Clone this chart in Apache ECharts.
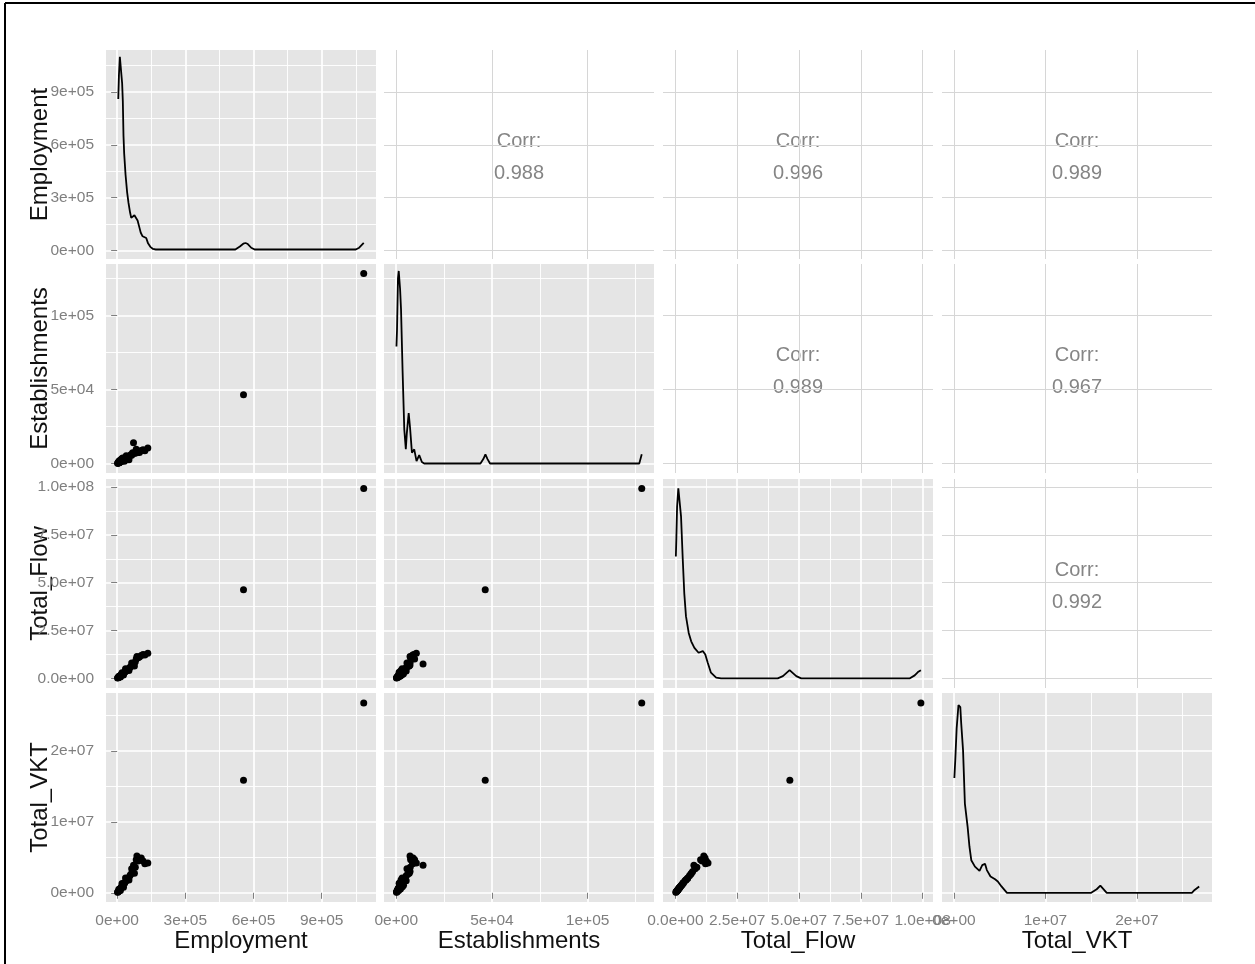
<!DOCTYPE html>
<html><head><meta charset="utf-8">
<script src="https://cdn.jsdelivr.net/npm/echarts@6/dist/echarts.min.js"></script>
<style>html,body{margin:0;padding:0;background:#fff;}#main{width:1255px;height:964px;}</style>
</head><body><div id="main"></div>
<script>
// ---------------- data ----------------
const varNames = ['Employment', 'Establishments', 'Total_Flow', 'Total_VKT'];

const employment = [2000,3500,4500,5500,6500,7500,8500,9500,10500,11500,12500,13500,14500,15500,16500,17500,18500,20000,21500,23000,24500,26000,28000,30000,32000,34000,37000,40000,44000,48000,52000,56000,60000,64000,68000,72000,76000,80000,84000,87000,92000,98000,106000,114000,122000,135000,556000,1085000];
const establishments = [150,300,250,450,600,1500,750,650,900,850,2200,1000,1250,1400,1200,1550,1700,3200,1900,2100,3800,2400,2600,2300,1500,3300,3100,5200,4000,4500,2500,5200,6000,5600,7200,14000,6800,7300,9600,7200,8200,7500,8800,9300,8600,10500,46500,128300];
const totalFlow = [200000,300000,450000,500000,650000,1200000,850000,900000,1050000,1100000,1250000,1300000,800000,1500000,1650000,1700000,1850000,2000000,3000000,2300000,2450000,2600000,1800000,3000000,3200000,3300000,5000000,3900000,4400000,4900000,4200000,5700000,6200000,8000000,7000000,7500000,6500000,8700000,10200000,11500000,10800000,11200000,12000000,12500000,12200000,13200000,46300000,99300000];
const totalVkt = [80000,120000,180000,220000,260000,500000,340000,380000,430000,470000,520000,560000,340000,640000,700000,730000,780000,850000,1300000,980000,1050000,1100000,780000,1300000,1350000,1450000,2100000,1700000,1850000,2000000,1800000,2400000,2600000,3400000,3000000,3900000,2750000,3600000,4650000,5200000,4500000,4700000,4900000,4500000,4100000,4200000,15900000,26800000];

// density curves on the diagonal (x in variable units, y scaled to the row's variable)
const empDensX = [5000,8000,12000,17000,22000,25000,28000,31000,37000,44000,50000,57000,62000,68000,76000,82000,90000,97000,104000,112000,120000,128000,136000,146000,158000,170000,520000,540000,555000,565000,575000,590000,605000,1050000,1065000,1085000];
const empDensY = [860000,1000000,1100000,1090000,950000,850000,650000,550000,430000,330000,270000,215000,185000,180000,200000,190000,170000,135000,100000,80000,82000,70000,40000,20000,8000,5000,5000,22000,38000,42000,36000,15000,5000,5000,15000,42000];
const estDensX = [100,400,900,1300,2000,2500,3300,4200,5000,5500,6500,7200,8200,9400,10600,12000,13400,14600,15900,44000,45500,46600,47700,49000,127000,128300];
const estDensY = [79000,90000,125000,130000,118000,104000,63000,23000,9600,20000,34000,24500,7300,9600,1600,5700,1000,0,0,0,3000,6200,3000,0,0,6200];
const flowDensX = [200000,400000,700000,1200000,1900000,2300000,3000000,3600000,4300000,5400000,6400000,7700000,9400000,11100000,12100000,13100000,14400000,16500000,18500000,41400000,43500000,46200000,48900000,50900000,94700000,96800000,98100000,99300000];
const flowDensY = [63700000,73300000,89800000,99300000,98400000,84500000,62000000,44600000,32400000,23800000,19400000,16000000,13400000,14300000,12500000,8200000,3000000,400000,0,0,1200000,4300000,1200000,0,0,1600000,3300000,4300000];
const vktDensX = [50000,150000,300000,500000,700000,800000,1000000,1200000,1500000,1700000,1900000,2300000,2800000,3100000,3400000,3600000,4000000,4500000,4800000,5200000,5800000,15000000,15600000,16000000,16700000,26000000,26300000,26800000];
const vktDensY = [16200000,18700000,23200000,26500000,26200000,23900000,20100000,12600000,9300000,6500000,4600000,3700000,3100000,3900000,4100000,3200000,2300000,1900000,1600000,900000,0,0,500000,1000000,0,0,400000,900000];

// correlations shown in the upper panels: [row, col, value]
const corrCells = [[0,1,'0.988'],[0,2,'0.996'],[0,3,'0.989'],[1,2,'0.989'],[1,3,'0.967'],[2,3,'0.992']];

// axis ranges and ticks
const empRange = [-49000, 1139000];
const estRange = [-6400, 134700];
const flowRange = [-5000000, 104200000];
const vktRange = [-1300000, 28200000];
const empTicks = [0, 300000, 600000, 900000];
const empTickLabels = ['0e+00', '3e+05', '6e+05', '9e+05'];
const empMinor = [150000, 450000, 750000, 1050000];
const estTicks = [0, 50000, 100000];
const estTickLabels = ['0e+00', '5e+04', '1e+05'];
const estMinor = [25000, 75000, 125000];
const flowTicks = [0, 25000000, 50000000, 75000000, 100000000];
const flowTickLabels = ['0.0e+00', '2.5e+07', '5.0e+07', '7.5e+07', '1.0e+08'];
const flowMinor = [12500000, 37500000, 62500000, 87500000];
const vktTicks = [0, 10000000, 20000000];
const vktTickLabels = ['0e+00', '1e+07', '2e+07'];
const vktMinor = [5000000, 15000000, 25000000];

// ---------------- chart ----------------
const vars = [
  {data: employment, range: empRange, ticks: empTicks, labels: empTickLabels, minor: empMinor, dx: empDensX, dy: empDensY},
  {data: establishments, range: estRange, ticks: estTicks, labels: estTickLabels, minor: estMinor, dx: estDensX, dy: estDensY},
  {data: totalFlow, range: flowRange, ticks: flowTicks, labels: flowTickLabels, minor: flowMinor, dx: flowDensX, dy: flowDensY},
  {data: totalVkt, range: vktRange, ticks: vktTicks, labels: vktTickLabels, minor: vktMinor, dx: vktDensX, dy: vktDensY}
];

const colLeft = [106, 384, 663, 942];
const rowTop = [50, 264, 479, 693];
const panelW = 270, panelH = 209;
const FONT = '"Liberation Sans", Arial, sans-serif';
const tickGrey = '#7f7f7f';

const grids = [], xAxes = [], yAxes = [], series = [], graphics = [];

for (let i = 0; i < 4; i++) {
  for (let j = 0; j < 4; j++) {
    const g = i * 4 + j;
    const lower = i >= j;
    grids.push({
      left: colLeft[j], top: rowTop[i], width: panelW, height: panelH,
      show: true, backgroundColor: lower ? '#E5E5E5' : '#FFFFFF', borderWidth: 0,
      containLabel: false, outerBoundsMode: 'none'
    });
    const vx = vars[j], vy = vars[i];
    const majorColor = lower ? '#FFFFFF' : '#D6D6D6';
    const majorWidth = lower ? 1.7 : 1;
    xAxes.push({
      type: 'value', gridIndex: g, min: vx.range[0], max: vx.range[1], position: 'bottom',
      axisLine: {show: false},
      axisTick: {show: i === 3, customValues: vx.ticks, length: 6, lineStyle: {color: tickGrey, width: 1}},
      axisLabel: {show: i === 3, customValues: vx.ticks, margin: 11, color: tickGrey, fontSize: 15.5, fontFamily: FONT,
        formatter: (v) => vx.labels[vx.ticks.indexOf(v)]},
      splitLine: {show: true, lineStyle: {color: majorColor, width: majorWidth}},
      name: i === 3 ? varNames[j] : '', nameLocation: 'middle', nameGap: 27, nameMoveOverlap: false,
      nameTextStyle: {fontSize: 24, color: '#111', fontFamily: FONT}
    });
    yAxes.push({
      type: 'value', gridIndex: g, min: vy.range[0], max: vy.range[1], position: 'left',
      axisLine: {show: false},
      axisTick: {show: j === 0, customValues: vy.ticks, length: 6, lineStyle: {color: tickGrey, width: 1}},
      axisLabel: {show: j === 0, customValues: vy.ticks, margin: 12, color: tickGrey, fontSize: 15.5, fontFamily: FONT,
        formatter: (v) => vy.labels[vy.ticks.indexOf(v)]},
      splitLine: {show: true, lineStyle: {color: majorColor, width: majorWidth}},
      name: j === 0 ? varNames[i] : '', nameLocation: 'middle', nameGap: 54, nameMoveOverlap: false,
      nameTextStyle: {fontSize: 24, color: '#111', fontFamily: FONT}
    });

    if (!lower) continue;
    // minor grid lines (white, thin) drawn through the axis scales
    const minorLines = {
      silent: true, z: 1, symbol: ['none', 'none'], label: {show: false}, animation: false,
      emphasis: {disabled: true},
      lineStyle: {color: '#FFFFFF', width: 0.9, type: 'solid', opacity: 1},
      data: vx.minor.map(v => ({xAxis: v})).concat(vy.minor.map(v => ({yAxis: v})))
    };
    if (i > j) {
      series.push({
        type: 'scatter', xAxisIndex: g, yAxisIndex: g, z: 3,
        data: vx.data.map((x, k) => [x, vy.data[k]]),
        symbol: 'circle', symbolSize: 7, itemStyle: {color: '#000', opacity: 1}, silent: true,
        markLine: minorLines
      });
    } else {
      series.push({
        type: 'line', xAxisIndex: g, yAxisIndex: g, z: 3,
        data: vx.dx.map((x, k) => [x, vx.dy[k]]),
        showSymbol: false, symbol: 'none', smooth: false,
        lineStyle: {color: '#000', width: 1.8}, silent: true,
        markLine: minorLines
      });
    }
  }
}

corrCells.forEach(([r, c, val]) => {
  graphics.push({
    type: 'text', x: colLeft[c] + panelW / 2, y: rowTop[r] + panelH / 2 + 3, silent: true,
    style: {text: 'Corr:\n' + val, textAlign: 'center', textVerticalAlign: 'middle',
      fontSize: 20, lineHeight: 32, fill: '#858585', fontFamily: FONT}
  });
});
graphics.push({type: 'line', shape: {x1: 5, y1: 3, x2: 1255, y2: 3}, style: {stroke: '#000', lineWidth: 2}, silent: true});
graphics.push({type: 'line', shape: {x1: 5, y1: 3, x2: 5, y2: 964}, style: {stroke: '#000', lineWidth: 2}, silent: true});

const chart = echarts.init(document.getElementById('main'), null, {renderer: 'canvas'});
chart.setOption({
  animation: false,
  backgroundColor: '#FFFFFF',
  textStyle: {fontFamily: FONT},
  grid: grids, xAxis: xAxes, yAxis: yAxes, series: series, graphic: graphics
});
</script></body></html>
